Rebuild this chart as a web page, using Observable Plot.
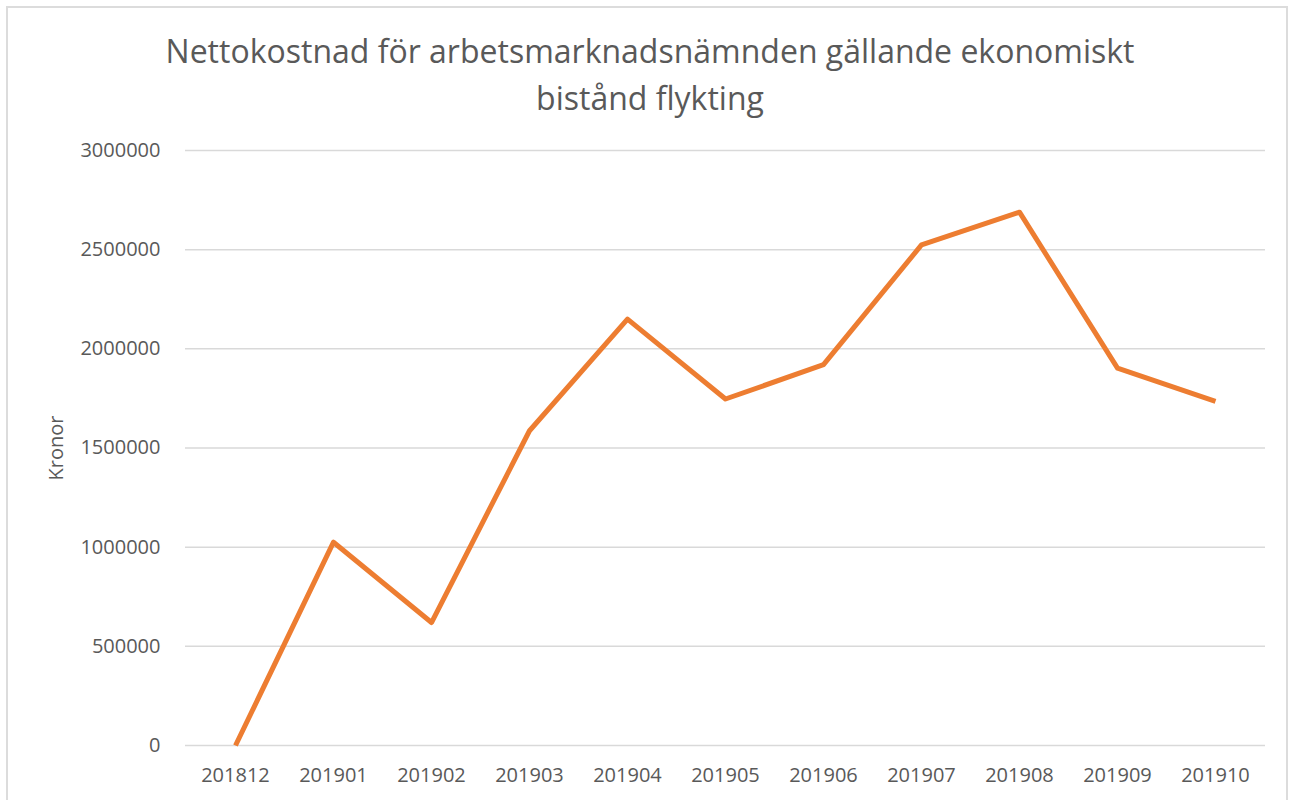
<!DOCTYPE html>
<html>
<head>
<meta charset="utf-8">
<script src="https://cdn.jsdelivr.net/npm/d3@7"></script>
<script src="https://cdn.jsdelivr.net/npm/@observablehq/plot@0.6"></script>
<style>
  html, body { margin: 0; padding: 0; background: #fff; }
  #wrap { position: relative; width: 1290px; height: 800px; overflow: hidden; font-family: "Open Sans", sans-serif; }
  #frame { position: absolute; left: 6px; top: 6px; width: 1282px; height: 800px; border: 2px solid #dcdcdc; box-sizing: border-box; }
  #title { position: absolute; left: 10px; top: 27px; width: 1280px; text-align: center; font-size: 32px; line-height: 47px; color: #595959; }
  #chart { position: absolute; left: 0; top: 120px; }
</style>
</head>
<body>
<div id="wrap">
  <div id="frame"></div>
  <div id="title">Nettokostnad för arbetsmarknadsnämnden gällande ekonomiskt<br>bistånd flykting</div>
  <div id="chart"></div>
</div>
<script>
const months = ["201812", "201901", "201902", "201903", "201904", "201905", "201906", "201907", "201908", "201909", "201910"];
const kronor = [0, 1025000, 620000, 1587000, 2150000, 1747000, 1920000, 2524000, 2689000, 1903000, 1735000];
const yTicks = [0, 500000, 1000000, 1500000, 2000000, 2500000, 3000000];
const yLabel = "Kronor";

const data = months.map((m, i) => ({month: m, value: kronor[i]}));

const chart = Plot.plot({
  width: 1290,
  height: 680,
  marginLeft: 185,
  marginRight: 25,
  marginTop: 30,
  marginBottom: 55,
  style: {fontFamily: "Open Sans, sans-serif", fontSize: "20px", color: "#595959", background: "transparent"},
  x: {type: "point", domain: months, padding: 0.5, label: null},
  y: {domain: [0, 3000000], label: null},
  marks: [
    Plot.ruleY(yTicks, {stroke: "#d9d9d9", strokeWidth: 1.5}),
    Plot.axisY({ticks: yTicks, tickSize: 0, tickPadding: 25, tickFormat: d => String(d), label: null, fontSize: 20}),
    Plot.axisX({tickSize: 0, tickPadding: 22, fontSize: 20, label: null}),
    Plot.text([yLabel], {frameAnchor: "left", dx: -129, rotate: -90, textAnchor: "middle", fontSize: 20, letterSpacing: "0.5px", fill: "#595959", text: d => d}),
    Plot.line(data, {x: "month", y: "value", stroke: "#ED7D31", strokeWidth: 5, strokeLinejoin: "round", strokeLinecap: "butt"})
  ]
});
document.getElementById("chart").appendChild(chart);
</script>
</body>
</html>
